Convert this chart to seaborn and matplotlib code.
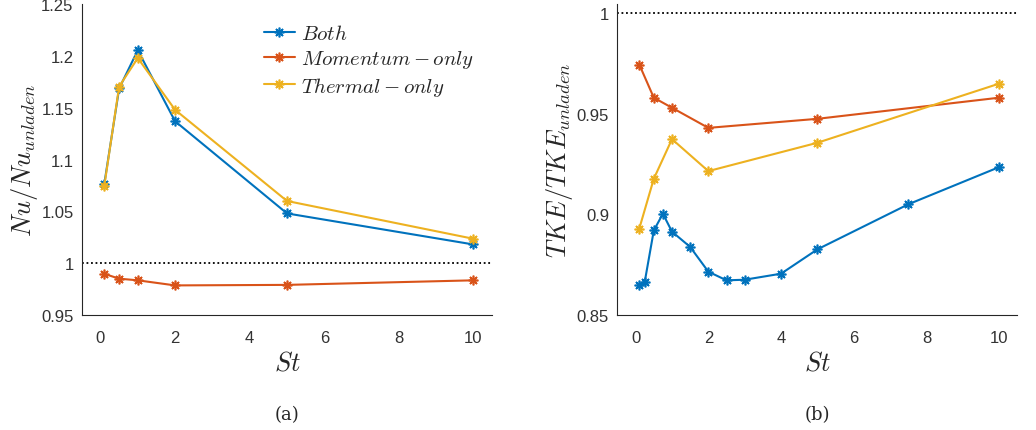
import matplotlib
matplotlib.use("Agg")
import matplotlib.pyplot as plt
import matplotlib.ticker as mticker
from matplotlib.lines import Line2D
import seaborn as sns

# ---- data ----
st_a = [0.1, 0.5, 1, 2, 5, 10]
nu_both = [1.076, 1.1686, 1.2055, 1.137, 1.048, 1.018]
nu_momentum = [0.9897, 0.985, 0.9834, 0.9785, 0.979, 0.9834]
nu_thermal = [1.074, 1.1705, 1.198, 1.148, 1.060, 1.0235]

st_b_both = [0.1, 0.25, 0.5, 0.75, 1, 1.5, 2, 2.5, 3, 4, 5, 7.5, 10]
tke_both = [0.865, 0.8664, 0.892, 0.9003, 0.8914, 0.8838, 0.8715, 0.8672,
            0.8675, 0.8705, 0.8826, 0.905, 0.9235]
st_b = [0.1, 0.5, 1, 2, 5, 10]
tke_momentum = [0.9745, 0.958, 0.953, 0.943, 0.9475, 0.958]
tke_thermal = [0.8929, 0.9177, 0.9374, 0.9215, 0.9356, 0.965]

series_labels = ["$Both$", "$Momentum-only$", "$Thermal-only$"]
colors = ["#0072BD", "#D95319", "#EDB120"]
xticks = [0, 2, 4, 6, 8, 10]
yticks_a = [0.95, 1.0, 1.05, 1.1, 1.15, 1.2, 1.25]
yticks_b = [0.85, 0.9, 0.95, 1.0]
panel_labels = ["(a)", "(b)"]

sns.set_theme(style="white")
plt.rcParams["font.family"] = ["Liberation Sans", "DejaVu Sans"]
plt.rcParams["mathtext.fontset"] = "cm"

fig = plt.figure(figsize=(10.36, 4.31), dpi=100)
ax1 = fig.add_axes([0.079, 0.267, 0.396, 0.721])
ax2 = fig.add_axes([0.596, 0.267, 0.386, 0.721])

mk = (8, 2, 0)
ms = 7
lw = 1.5

def draw(ax, xs, ys, color):
    sns.lineplot(x=xs, y=ys, ax=ax, color=color, marker=mk, markersize=ms,
                 markeredgecolor=color, markeredgewidth=1.2, linewidth=lw,
                 legend=False)

draw(ax1, st_a, nu_both, colors[0])
draw(ax1, st_a, nu_momentum, colors[1])
draw(ax1, st_a, nu_thermal, colors[2])
ax1.axhline(1.0, color="black", linestyle=(0, (1, 1.5)), linewidth=1.3, zorder=1)

draw(ax2, st_b_both, tke_both, colors[0])
draw(ax2, st_b, tke_momentum, colors[1])
draw(ax2, st_b, tke_thermal, colors[2])
ax2.axhline(1.0, color="black", linestyle=(0, (1, 1.5)), linewidth=1.3, zorder=1)

fmt = mticker.FuncFormatter(lambda v, p: f"{v:g}")
for ax, yt, ylim, ylab, pl in [
    (ax1, yticks_a, (0.95, 1.25), "$Nu/Nu_{unladen}$", panel_labels[0]),
    (ax2, yticks_b, (0.85, 1.0045), "$TKE/TKE_{unladen}$", panel_labels[1]),
]:
    ax.set_xlim(-0.5, 10.5)
    ax.set_ylim(*ylim)
    ax.set_xticks(xticks)
    ax.set_yticks(yt)
    ax.xaxis.set_major_formatter(fmt)
    ax.yaxis.set_major_formatter(fmt)
    for s in ["top", "right"]:
        ax.spines[s].set_visible(False)
    for s in ["left", "bottom"]:
        ax.spines[s].set_color("#262626")
        ax.spines[s].set_linewidth(0.8)
    ax.tick_params(direction="in", length=4, width=0.8, colors="#262626",
                   labelsize=12, labelcolor="#333333")
    ax.tick_params(axis="x", pad=11)
    ax.tick_params(axis="y", pad=6)
    ax.set_xlabel("$St$", fontsize=19, labelpad=4)
    ax.set_ylabel(ylab, fontsize=19, labelpad=1)
    ax.text(0.5, -0.32, pl, transform=ax.transAxes, ha="center", va="center",
            fontsize=13, family="DejaVu Serif")
    ax.grid(False)

handles = [Line2D([0], [0], color=c, marker=mk, markersize=ms, markeredgewidth=1.2,
                  linewidth=lw) for c in colors]
ax1.legend(handles, series_labels, loc="upper left", bbox_to_anchor=(0.443, 0.935),
           frameon=False, fontsize=15, handlelength=1.5, handletextpad=0.3,
           labelspacing=0.22, borderaxespad=0, borderpad=0)

fig.savefig("out.png", dpi=100)
